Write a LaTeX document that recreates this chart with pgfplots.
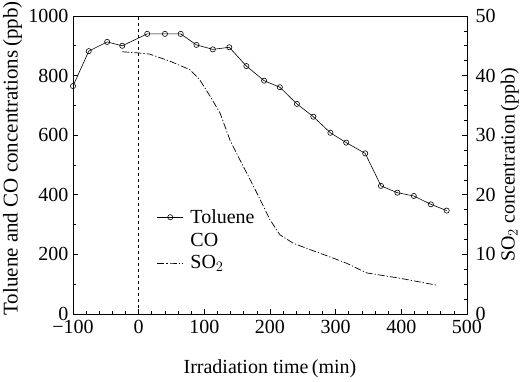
\documentclass[border=0pt]{standalone}
\usepackage{pgfplots}
\pgfplotsset{compat=1.18}
\usepackage{fontspec}
\setmainfont{Liberation Serif}
\begin{document}
\begin{tikzpicture}[font=\fontsize{20}{22}\selectfont]
\pgfplotsset{every axis/.style={
  scale only axis, width=394pt, height=298pt,
  xmin=-100, xmax=500,
  /pgf/number format/assume math mode=true,
  /pgf/number format/1000 sep={},
  tick label style={font=\fontsize{20}{22}\selectfont},
  label style={font=\fontsize{20}{22}\selectfont},
  tick align=inside, tick style={black, line width=0.6pt},
  major tick length=5pt, minor tick length=3pt,
  axis line style={line width=0.8pt},
  legend image code/.code={\draw[mark repeat=2,mark phase=2,##1] plot coordinates {(0cm,0cm) (0.45cm,0cm) (0.9cm,0cm)};},
}}
\begin{axis}[name=main,
  ymin=0, ymax=1000,
  xtick pos=bottom, ytick pos=left,
  xtick={-100,0,...,500}, minor x tick num=4,
  xticklabels={−100,0,100,200,300,400,500},
  ytick={0,200,...,1000}, minor y tick num=1,
  xlabel={Irradiation time\,(min)},
  ylabel={Toluene and CO concentrations\,(ppb)},
  xlabel style={at={(0.5,-0.2)}, anchor=base},
  ylabel style={at={(-0.178,0.522)}, anchor=north, inner sep=0pt, font=\fontsize{21}{23}\selectfont},
  xticklabel style={yshift=-3pt},
  yticklabel style={xshift=-1pt},
]
\addplot[black, dashed, line width=0.6pt] coordinates {(0,0) (0,1000)};
\addplot[black, line width=0.6pt, mark=o, mark size=2.6pt, mark options={solid, fill=white}] coordinates {
(-100,765) (-76,882) (-48,913) (-25,900) (13,940) (40,940) (64,940) (88,903)
(113,888) (138,895) (164,832) (191,783) (215,761) (241,705) (266,662)
(292,608) (316,575) (345,539) (369,430) (394,407) (419,396) (445,368) (469,347)
};
\end{axis}
\begin{axis}[
  ymin=0, ymax=50,
  axis y line*=right, axis x line=none,
  ytick={0,10,...,50}, minor y tick num=3,
  ylabel={SO$_2$ concentration\,(ppb)},
  ylabel style={at={(1.085,0.5)}, anchor=north, inner sep=0pt},
  yticklabel style={xshift=5pt},
  legend style={at={(0.213,0.358)}, anchor=north west, draw=none, fill=none, inner sep=0pt,
    row sep=4pt, font=\fontsize{20}{22}\selectfont,
    /tikz/every odd column/.append style={column sep=5pt}},
  legend cell align=left,
]
\addlegendimage{black, line width=0.6pt, mark=o, mark size=2.6pt, mark options={solid, fill=white}}
\addlegendentry{Toluene}
\addlegendimage{white}
\addlegendentry{CO}
\addplot[black, line width=0.7pt, dash pattern=on 7pt off 2pt on 1.2pt off 2pt] coordinates {
(-25,44.0) (0,43.8) (17,43.6) (48,42.4) (78,41.0) (93,39.3) (109,36.5)
(124,33.7) (139,29.2) (154,25.9) (170,22.5) (185,19.2) (200,15.8) (215,13.3)
(235,11.9) (256,11.0) (286,9.8) (317,8.5) (347,6.9) (398,6.0) (453,4.85)
};
\addlegendentry{SO$_2$}
\end{axis}
\pgfresetboundingbox
\path[use as bounding box] ([shift={(-73pt,-68pt)}]main.south west) rectangle ([shift={(58pt,16pt)}]main.north east);
\end{tikzpicture}
\end{document}
